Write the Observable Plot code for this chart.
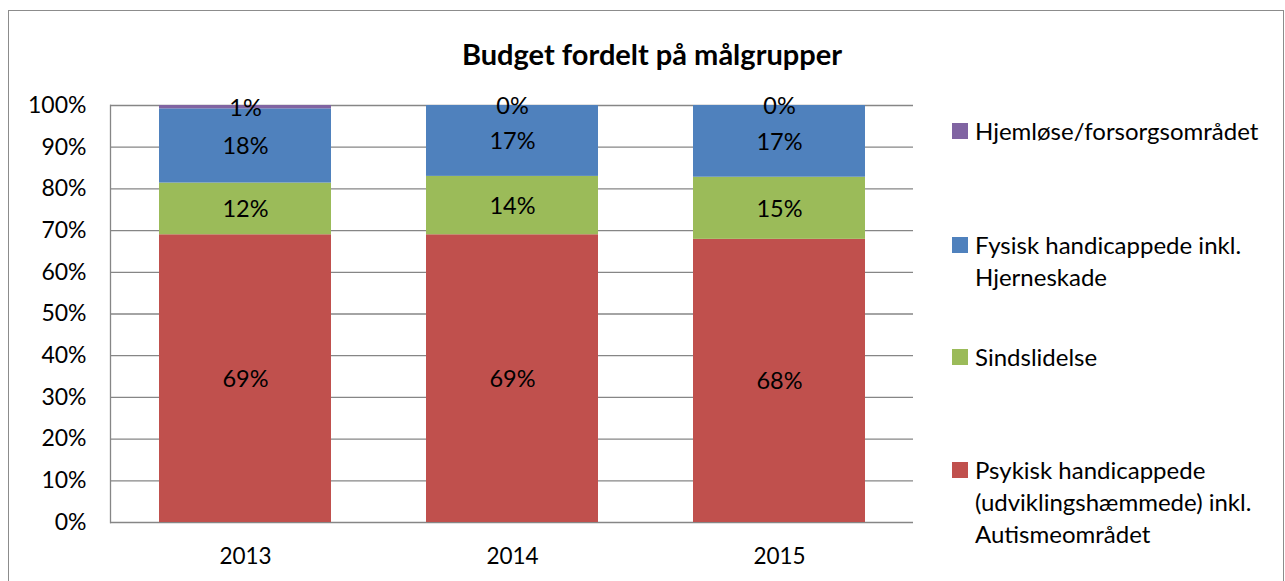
<!DOCTYPE html>
<html><head><meta charset="utf-8">
<script src="https://cdn.jsdelivr.net/npm/d3@7"></script>
<script src="https://cdn.jsdelivr.net/npm/@observablehq/plot@0.6"></script>
<style>
body{margin:0;background:#fff;font-family:Lato,"Open Sans",sans-serif}
#wrap{position:relative;width:1285px;height:581px;overflow:hidden;background:#fff}
#frame{position:absolute;left:8px;top:10px;width:1276px;height:620px;border:1px solid #8c8c8c;box-sizing:border-box}
#title{position:absolute;left:0;width:1304px;top:36px;text-align:center;font-weight:bold;font-size:29px;line-height:36px;color:#000}
#chart{position:absolute;left:0;top:0}
.lg{position:absolute;left:952px;font-size:24px;line-height:32px;color:#000}
.lg .sw{position:absolute;left:0;top:8px;width:16px;height:16px}
.lg .tx{position:absolute;left:23px;top:0;white-space:nowrap}
</style></head>
<body>
<div id="wrap">
  <div id="frame"></div>
  <div id="title">Budget fordelt på målgrupper</div>
  <div id="chart"></div>
  <div id="legend"></div>
</div>
<script>
const years = ["2013", "2014", "2015"];
const seriesNames = [
  "Psykisk handicappede (udviklingshæmmede) inkl. Autismeområdet",
  "Sindslidelse",
  "Fysisk handicappede inkl. Hjerneskade",
  "Hjemløse/forsorgsområdet"
];
const psykisk = [69.0, 69.0, 67.9];
const sinds = [12.4, 14.0, 14.9];
const fysisk = [17.8, 17.0, 17.2];
const hjemlose = [0.8, 0.0, 0.0];
const seriesColors = ["#C0504D", "#9BBB59", "#4F81BD", "#8064A2"];
const yTicks = [0, 10, 20, 30, 40, 50, 60, 70, 80, 90, 100];
const legendLines = [
  ["Hjemløse/forsorgsområdet"],
  ["Fysisk handicappede inkl.", "Hjerneskade"],
  ["Sindslidelse"],
  ["Psykisk handicappede", "(udviklingshæmmede) inkl.", "Autismeområdet"]
];
const legendColors = ["#8064A2", "#4F81BD", "#9BBB59", "#C0504D"];
const legendTops = [115, 229, 341, 454];

const seriesValues = [psykisk, sinds, fysisk, hjemlose];
const data = [];
seriesNames.forEach((s, i) => {
  years.forEach((y, j) => data.push({year: y, series: s, value: seriesValues[i][j]}));
});

const chart = Plot.plot({
  width: 1285,
  height: 581,
  marginLeft: 110,
  marginRight: 372,
  marginTop: 105,
  marginBottom: 59,
  style: {fontFamily: "Lato, 'Open Sans', sans-serif", background: "transparent"},
  x: {domain: years, paddingInner: 0.357, paddingOuter: 0.1785, label: null},
  y: {domain: [0, 100], label: null},
  color: {domain: seriesNames, range: seriesColors},
  marks: [
    Plot.ruleY(yTicks, {stroke: "#868686", strokeWidth: 1.3}),
    Plot.barY(data, Plot.stackY({x: "year", y: "value", z: "series", fill: "series", order: null})),
    Plot.text(data, Plot.stackY({x: "year", y: "value", z: "series", order: null,
      text: d => Math.round(d.value) + "%", fill: "#000", fontSize: 23.5, dy: 1})),
    Plot.frame({anchor: "left", stroke: "#868686", strokeWidth: 1.3}),
    Plot.axisY({ticks: yTicks, tickSize: 0, tickPadding: 24, tickFormat: d => d + "%", fontSize: 23, stroke: "none", fill: "#000"}),
    Plot.axisX({tickSize: 0, tickPadding: 26, fontSize: 22.5, fill: "#000"})
  ]
});
document.getElementById("chart").appendChild(chart);

const lg = document.getElementById("legend");
legendLines.forEach((lines, i) => {
  const div = document.createElement("div");
  div.className = "lg";
  div.style.top = legendTops[i] + "px";
  div.innerHTML = `<div class="sw" style="background:${legendColors[i]}"></div><div class="tx">${lines.join("<br>")}</div>`;
  lg.appendChild(div);
});
</script>
</body></html>
